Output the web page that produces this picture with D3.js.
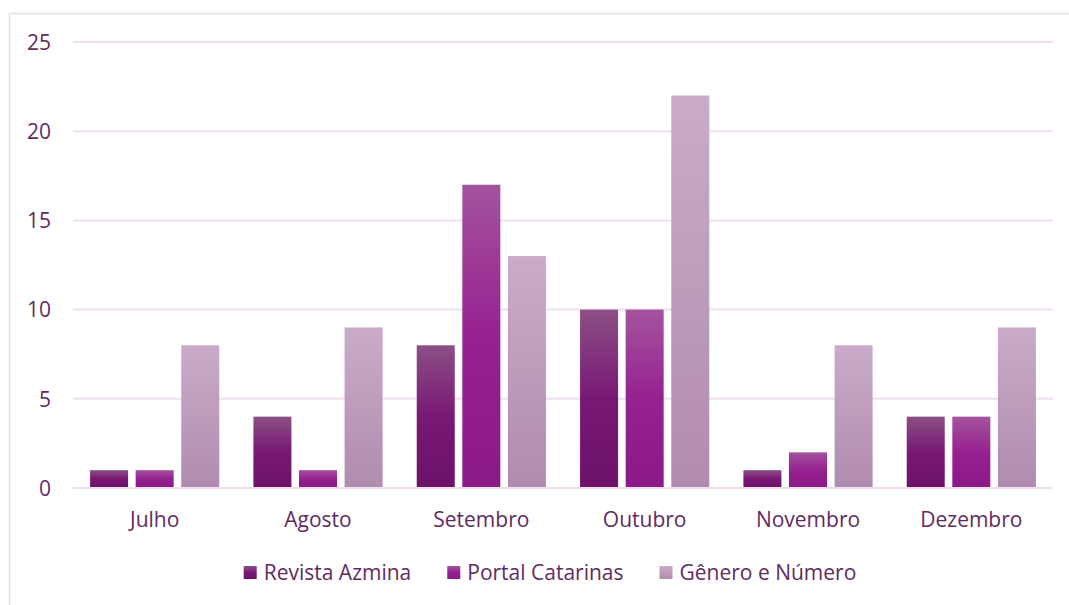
<!DOCTYPE html>
<html>
<head>
<meta charset="utf-8">
<script src="https://cdn.jsdelivr.net/npm/d3@7"></script>
<style>
  body { margin: 0; background: #fff; overflow: hidden; }
  text { font-family: "Open Sans", sans-serif; fill: #612b5f; }
</style>
</head>
<body>
<div id="chart"></div>
<script>
// Data
const months = ["Julho", "Agosto", "Setembro", "Outubro", "Novembro", "Dezembro"];
const series = ["Revista Azmina", "Portal Catarinas", "Gênero e Número"];
const revistaAzmina = [1, 4, 8, 10, 1, 4];
const portalCatarinas = [1, 1, 17, 10, 2, 4];
const generoNumero = [8, 9, 13, 22, 8, 9];
const yTicks = [0, 5, 10, 15, 20, 25];

const values = [revistaAzmina, portalCatarinas, generoNumero];
const rows = months.map((m, i) => ({
    month: m,
    vals: series.map((s, j) => ({key: s, idx: j, value: values[j][i]}))
}));

// gradient stops per series (top -> bottom)
const gradStops = [
    [["0%", "#8b4f85"], ["50%", "#781975"], ["100%", "#6d1169"]],
    [["0%", "#a4539e"], ["50%", "#962190"], ["100%", "#8b1987"]],
    [["0%", "#caabc9"], ["100%", "#b08cae"]]
];

const W = 1069, H = 605;
const margin = {top: 42, right: 16, bottom: 117, left: 73};
const width = W - margin.left - margin.right,
      height = H - margin.top - margin.bottom;

const svg = d3.select("#chart")
    .append("svg")
    .attr("width", W)
    .attr("height", H);

// gradients
const defs = svg.append("defs");
gradStops.forEach((stops, j) => {
    const g = defs.append("linearGradient")
        .attr("id", "grad" + j)
        .attr("x1", 0).attr("y1", 0)
        .attr("x2", 0).attr("y2", 1);
    stops.forEach(s => g.append("stop").attr("offset", s[0]).attr("stop-color", s[1]));
});

// chart area border (cropped on right and bottom)
svg.append("rect")
    .attr("x", 9.5).attr("y", 13.5)
    .attr("width", 1200).attr("height", 800)
    .attr("fill", "none")
    .attr("stroke", "#ecd9ec")
    .attr("stroke-width", 1.5);

const g = svg.append("g")
    .attr("transform", `translate(${margin.left},${margin.top})`);

const y = d3.scaleLinear().domain([0, 25]).range([height, 0]);

const x0 = d3.scaleBand()
    .domain(months)
    .range([0, width])
    .paddingInner(0.209)
    .paddingOuter(0.1045);

const x1 = d3.scaleBand()
    .domain(series)
    .range([0, x0.bandwidth()])
    .paddingInner(0.1667)
    .paddingOuter(0);

// gridlines
g.append("g")
    .selectAll("line")
    .data(yTicks)
    .join("line")
    .attr("x1", 0)
    .attr("x2", width)
    .attr("y1", d => y(d))
    .attr("y2", d => y(d))
    .attr("stroke", "#f0dff0")
    .attr("stroke-width", 2);

// y-axis labels
const yAxis = g.append("g")
    .call(d3.axisLeft(y).tickValues(yTicks).tickSize(0).tickPadding(22));
yAxis.select(".domain").remove();
yAxis.selectAll("text")
    .style("font-size", "21px")
    .attr("dy", "0.35em");

// bars
const groups = g.append("g")
    .selectAll("g")
    .data(rows)
    .join("g")
    .attr("transform", d => `translate(${x0(d.month)},0)`);

groups.selectAll("rect")
    .data(d => d.vals)
    .join("rect")
    .attr("x", d => x1(d.key))
    .attr("width", x1.bandwidth())
    .attr("y", d => y(d.value))
    .attr("height", d => y(0) - y(d.value) - 1)
    .attr("fill", d => `url(#grad${d.idx})`);

// x-axis labels
const xAxis = g.append("g")
    .attr("transform", `translate(0,${height})`)
    .call(d3.axisBottom(x0).tickSize(0).tickPadding(24));
xAxis.select(".domain").remove();
xAxis.selectAll("text")
    .style("font-size", "21px");

// legend
const legend = svg.append("g");
let lx = 0;
series.forEach((s, j) => {
    const item = legend.append("g");
    item.append("rect")
        .attr("x", 0).attr("y", -7)
        .attr("width", 13).attr("height", 13)
        .attr("fill", `url(#grad${j})`);
    const t = item.append("text")
        .attr("x", 20)
        .attr("dy", "0.35em")
        .style("font-size", "21px")
        .text(s);
    const w = 20 + t.node().getComputedTextLength();
    item.attr("transform", `translate(${lx},0)`);
    lx += w + 36;
});
const totalW = lx - 36;
legend.attr("transform", `translate(${550 - totalW / 2},573)`);
</script>
</body>
</html>
